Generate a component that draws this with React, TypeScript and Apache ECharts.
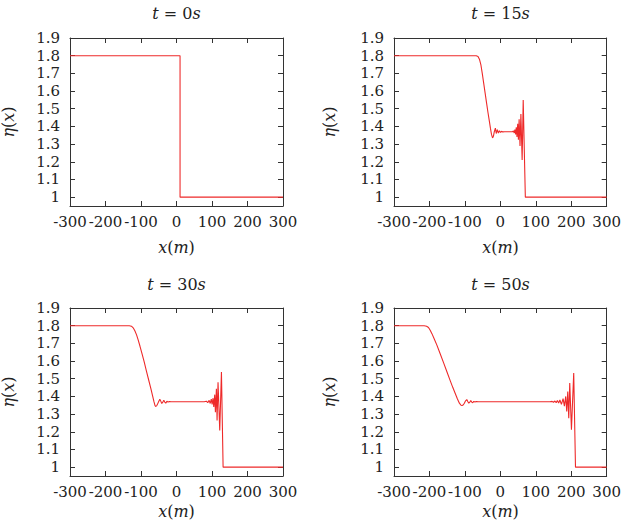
import React, { useEffect, useRef } from "react";
import * as echarts from "echarts";

// ---- data ----
const titles = ["0", "15", "30", "50"];
const xMin = -300;
const xMax = 300;
const xStep = 100;
const yTicks = [1, 1.1, 1.2, 1.3, 1.4, 1.5, 1.6, 1.7, 1.8, 1.9];

const t0: number[][] = [
  [-300, 1.8], [10, 1.8], [10, 1.0], [300, 1.0],
];

const t15: number[][] = [
  [-300, 1.8], [-68, 1.8], [-63, 1.796], [-59, 1.78], [-55, 1.75], [-51, 1.7],
  [-47, 1.645], [-43, 1.59], [-39, 1.535], [-35, 1.48], [-31, 1.43], [-28, 1.39],
  [-25, 1.355], [-22, 1.335], [-19.5, 1.345], [-17, 1.37], [-14, 1.39], [-11.5, 1.36],
  [-8.5, 1.382], [-5.5, 1.362], [-2.5, 1.376], [0.5, 1.366], [3.5, 1.372], [7, 1.369],
  [12, 1.37], [34, 1.37], [37, 1.375], [39, 1.363], [41, 1.382], [43, 1.355],
  [45, 1.395], [47, 1.34], [49, 1.415], [51, 1.325], [53, 1.44], [55.5, 1.29],
  [58, 1.47], [61.5, 1.21], [64.5, 1.55], [70.5, 1.0], [300, 1.0],
];

const t30: number[][] = [
  [-300, 1.8], [-133, 1.8], [-127, 1.797], [-122, 1.788], [-117, 1.77], [-112.5, 1.748],
  [-108, 1.72], [-103, 1.685], [-97, 1.64], [-91, 1.595], [-84.5, 1.542], [-78, 1.49],
  [-72, 1.443], [-67, 1.4], [-63.5, 1.37], [-60.5, 1.348], [-58, 1.343], [-55, 1.35],
  [-51.5, 1.365], [-47, 1.384], [-44, 1.372], [-41.5, 1.36], [-38.5, 1.368], [-35.8, 1.378],
  [-33, 1.368], [-30.2, 1.362], [-27, 1.373], [-23.6, 1.368], [-20, 1.371], [-15, 1.37],
  [78, 1.37], [84, 1.373], [88, 1.365], [92, 1.378], [95, 1.36], [98, 1.385],
  [100.3, 1.355], [103, 1.39], [105, 1.34], [107.7, 1.41], [109.6, 1.31], [112.4, 1.443],
  [114.3, 1.264], [117, 1.48], [121.8, 1.207], [126.6, 1.538], [131.3, 1.0], [300, 1.0],
];

const t50: number[][] = [
  [-300, 1.8], [-215, 1.8], [-208, 1.797], [-202.7, 1.79], [-197.5, 1.773], [-193, 1.755],
  [-187, 1.728], [-179, 1.69], [-170, 1.643], [-160, 1.59], [-151, 1.541], [-142, 1.492],
  [-134, 1.45], [-127.5, 1.418], [-121, 1.385], [-115.5, 1.362], [-111, 1.35], [-108, 1.349],
  [-105, 1.352], [-102, 1.36], [-98, 1.375], [-94.7, 1.382], [-91.5, 1.37], [-89, 1.362],
  [-86, 1.368], [-83.5, 1.376], [-80.5, 1.368], [-78, 1.364], [-75, 1.372], [-71.5, 1.368],
  [-68, 1.371], [-62, 1.37], [140, 1.37], [146, 1.372], [150, 1.367], [154, 1.374],
  [157.5, 1.365], [161, 1.377], [164.5, 1.362], [168, 1.38], [172.3, 1.355], [177, 1.388],
  [180.7, 1.345], [184.5, 1.4], [187.3, 1.315], [190.2, 1.428], [193, 1.277], [195.8, 1.476],
  [200.6, 1.211], [207, 1.532], [212, 1.0], [300, 1.0],
];

const panels = [t0, t15, t30, t50];

// ---- layout ----
const W = 624;
const H = 529;
const gridRects = [
  { left: 70, top: 38, width: 213, height: 168 },
  { left: 394, top: 38, width: 213, height: 168 },
  { left: 70, top: 308, width: 213, height: 168 },
  { left: 394, top: 308, width: 213, height: 168 },
];
const titleY = [13, 13, 284, 284];
const xNameY = [247, 247, 511, 511];
const yNameX = [8, 329, 8, 329];

const FONT = "DejaVu Serif";
const AXIS_COLOR = "#333";
const TEXT_COLOR = "#222";
const LINE_COLOR = "#ee2a2a";

export default function App() {
  const ref = useRef<HTMLDivElement>(null);

  useEffect(() => {
    if (!ref.current) return;
    const chart = echarts.init(ref.current, undefined, { renderer: "svg" });

    const grid = gridRects.map((g) => ({ ...g, containLabel: false }));

    const tickStyle = { show: true, inside: true, length: 5, lineStyle: { color: AXIS_COLOR, width: 1 } };
    const lineStyle = { show: true, onZero: false, lineStyle: { color: AXIS_COLOR, width: 1 } };

    const xAxisBottom = gridRects.map((_, i) => ({
      type: "value",
      gridIndex: i,
      position: "bottom",
      min: xMin,
      max: xMax,
      interval: xStep,
      axisLine: lineStyle,
      axisTick: tickStyle,
      axisLabel: { color: TEXT_COLOR, fontFamily: FONT, fontSize: 15, margin: 8 },
      splitLine: { show: false },
    }));
    const xAxisTop = gridRects.map((_, i) => ({
      type: "value",
      gridIndex: i,
      position: "top",
      min: xMin,
      max: xMax,
      interval: xStep,
      axisLine: lineStyle,
      axisTick: tickStyle,
      axisLabel: { show: false },
      splitLine: { show: false },
    }));
    const fmt = (v: number) => String(Math.round(v * 10) / 10);
    const yAxisLeft = gridRects.map((_, i) => ({
      type: "value",
      gridIndex: i,
      position: "left",
      min: 0.95,
      max: 1.9,
      axisLine: lineStyle,
      axisTick: { ...tickStyle, customValues: yTicks },
      axisLabel: {
        customValues: yTicks,
        formatter: fmt,
        color: TEXT_COLOR,
        fontFamily: FONT,
        fontSize: 15,
        margin: 10,
      },
      splitLine: { show: false },
    }));
    const yAxisRight = gridRects.map((_, i) => ({
      type: "value",
      gridIndex: i,
      position: "right",
      min: 0.95,
      max: 1.9,
      axisLine: lineStyle,
      axisTick: { ...tickStyle, customValues: yTicks },
      axisLabel: { show: false, customValues: yTicks },
      splitLine: { show: false },
    }));

    const series = panels.map((d, i) => ({
      type: "line",
      xAxisIndex: i,
      yAxisIndex: i,
      data: d,
      showSymbol: false,
      symbol: "none",
      lineStyle: { color: LINE_COLOR, width: 1.1 },
      silent: true,
    }));

    const richItalic = {
      i: { fontStyle: "italic", fontFamily: FONT, fontSize: 16, fill: TEXT_COLOR },
      n: { fontFamily: FONT, fontSize: 16, fill: TEXT_COLOR },
    };

    const graphic: any[] = [];
    gridRects.forEach((g, i) => {
      const cx = g.left + g.width / 2;
      graphic.push({
        type: "text",
        x: cx,
        y: titleY[i],
        style: {
          text: `{i|t}{n| = ${titles[i]}}{i|s}`,
          rich: richItalic,
          align: "center",
          verticalAlign: "middle",
          fill: TEXT_COLOR,
        },
      });
      graphic.push({
        type: "text",
        x: cx,
        y: xNameY[i],
        style: {
          text: "{i|x}{n|(}{i|m}{n|)}",
          rich: richItalic,
          align: "center",
          verticalAlign: "middle",
          fill: TEXT_COLOR,
        },
      });
      graphic.push({
        type: "text",
        x: yNameX[i],
        y: g.top + g.height / 2,
        rotation: Math.PI / 2,
        style: {
          text: "{i|η}{n|(}{i|x}{n|)}",
          rich: richItalic,
          align: "center",
          verticalAlign: "middle",
          fill: TEXT_COLOR,
        },
      });
    });

    chart.setOption({
      animation: false,
      backgroundColor: "#fff",
      grid,
      xAxis: [...xAxisBottom, ...xAxisTop],
      yAxis: [...yAxisLeft, ...yAxisRight],
      series,
      graphic,
    });

    return () => chart.dispose();
  }, []);

  return (
    <div
      ref={ref}
      style={{ position: "absolute", left: 0, top: 0, width: W, height: H }}
    />
  );
}
